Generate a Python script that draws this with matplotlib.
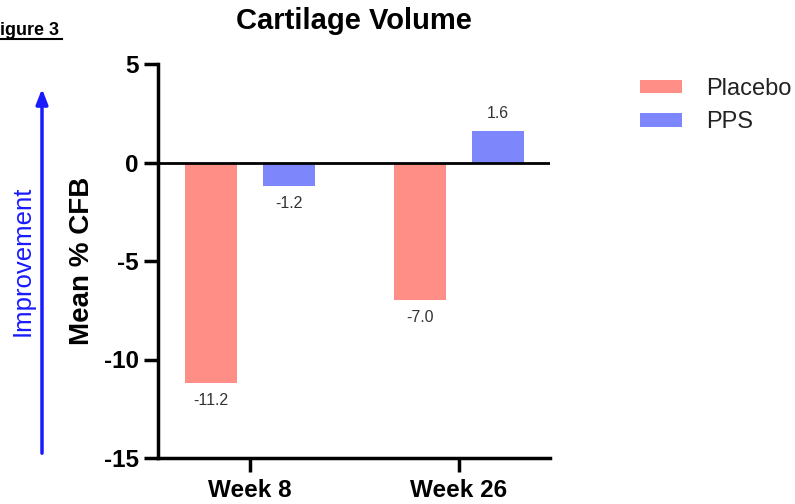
import numpy as np
import matplotlib
matplotlib.use("Agg")
import matplotlib.pyplot as plt
from matplotlib.lines import Line2D

plt.rcParams['font.family'] = ['Liberation Sans', 'DejaVu Sans']

weeks = ["Week 8", "Week 26"]
placebo = [-11.2, -7.0]
pps = [-1.2, 1.6]
series_names = ["Placebo", "PPS"]
y_ticks = [5, 0, -5, -10, -15]

PLACEBO_COLOR = "#ff8e86"
PPS_COLOR = "#7d86fa"

fig = plt.figure(figsize=(7.95, 5.04), dpi=100)
ax = fig.add_axes([158 / 795, 1 - 458 / 504, (550 - 158) / 795, (458 - 64) / 504])

x = np.arange(len(weeks))
w = 0.25
off = 0.187
b1 = ax.bar(x - off, placebo, w, color=PLACEBO_COLOR, label=series_names[0])
b2 = ax.bar(x + off, pps, w, color=PPS_COLOR, label=series_names[1])

for bars, vals in [(b1, placebo), (b2, pps)]:
    for rect, v in zip(bars, vals):
        dy = 17 if v > 0 else -17
        ax.annotate(f"{v:.1f}", (rect.get_x() + rect.get_width() / 2, v),
                    xytext=(0, dy * 0.72), textcoords="offset points",
                    ha="center", va="center", fontsize=11.4, color="#333333")

ax.axhline(0, color="black", lw=2)
ax.set_xlim(-0.44, 1.435)
ax.set_ylim(-15, 5)
ax.set_yticks(y_ticks)
ax.set_yticklabels([str(t) for t in y_ticks], fontsize=17.5, fontweight="bold")
ax.set_xticks(x)
ax.set_xticklabels(weeks, fontsize=17.5, fontweight="bold")
ax.tick_params(axis="y", length=10, width=2.5, pad=4)
ax.tick_params(axis="x", length=10, width=2.5, pad=5)
for s in ["top", "right"]:
    ax.spines[s].set_visible(False)
for s in ["left", "bottom"]:
    ax.spines[s].set_linewidth(2.5)

ax.set_ylabel("Mean % CFB", fontsize=20, fontweight="bold", labelpad=6)
ax.set_title("Cartilage Volume", fontsize=21, fontweight="bold", pad=25, x=0.5)

leg = fig.legend(loc="upper left", bbox_to_anchor=(640 / 795, 1 - 78 / 504),
                 frameon=False, fontsize=17, handlelength=1.76, handleheight=0.5,
                 handletextpad=1.05, labelspacing=0.48, borderpad=0, borderaxespad=0)
for t in leg.get_texts():
    t.set_color("#222222")

# "Figure 3" header, partly cut off at the left edge like in the source
fig.text(-11 / 795, 1 - 35 / 504, "Figure 3", fontsize=13, fontweight="bold",
         ha="left", va="baseline")
fig.add_artist(Line2D([0, 62 / 795], [1 - 38.5 / 504] * 2, color="black", lw=1.5))

# Improvement arrow
ax.annotate("", xy=(42 / 795, 1 - 86 / 504), xytext=(42 / 795, 1 - 456 / 504),
            xycoords="figure fraction", textcoords="figure fraction",
            arrowprops=dict(arrowstyle="-|>,head_width=0.35,head_length=0.9",
                            color="#1a1aff", lw=2.5))
fig.text(23 / 795, 1 - 261 / 504, "Improvement", rotation=90, fontsize=18.5,
         color="#1a1aff", ha="center", va="center")

fig.savefig("out.png", dpi=100)
